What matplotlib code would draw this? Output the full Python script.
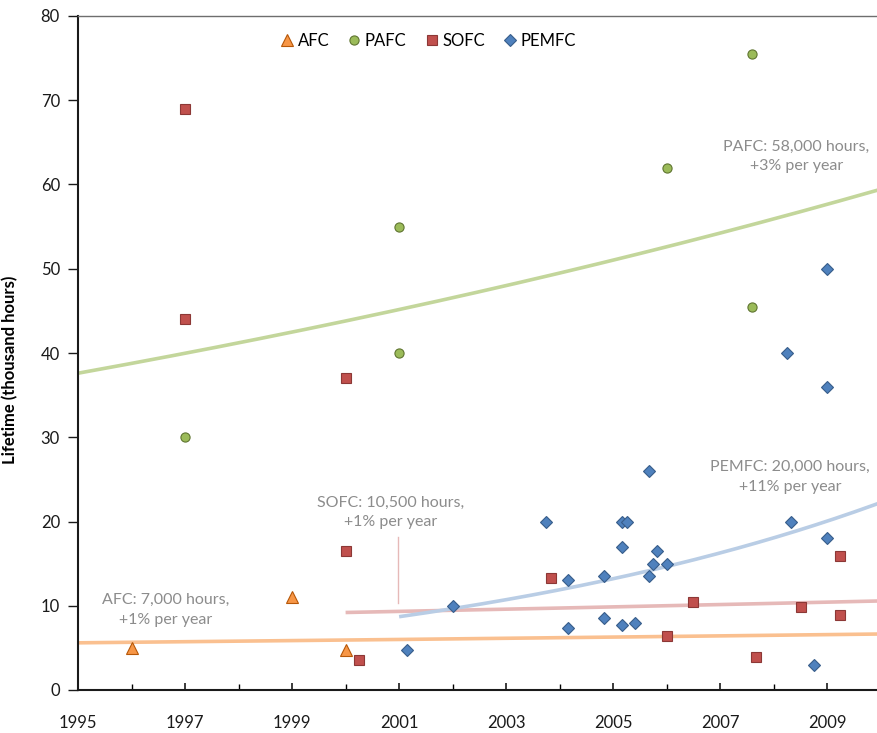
import matplotlib
matplotlib.use("Agg")
import matplotlib.pyplot as plt
import numpy as np

# lifetime records (year, thousand hours) per fuel cell type
afc_year = [1996.0, 1999.0, 2000.0]
afc_life = [5.0, 11.0, 4.8]

pafc_year = [1997.0, 2001.0, 2001.0, 2006.0, 2007.6, 2007.6]
pafc_life = [30.0, 55.0, 40.0, 62.0, 75.5, 45.5]

sofc_year = [1997.0, 1997.0, 2000.0, 2000.0, 2000.25, 2003.83, 2006.0, 2006.5,
             2007.67, 2008.5, 2009.24, 2009.24]
sofc_life = [69.0, 44.0, 37.0, 16.5, 3.6, 13.3, 6.4, 10.5, 3.9, 9.9, 15.9, 8.9]

pemfc_year = [2001.15, 2002.0, 2003.74, 2004.16, 2004.16, 2004.83, 2004.83,
              2005.16, 2005.25, 2005.16, 2005.16, 2005.41, 2005.66, 2005.66,
              2005.74, 2005.82, 2006.0, 2008.25, 2008.33, 2008.75, 2009.0,
              2009.0, 2009.0]
pemfc_life = [4.7, 10.0, 20.0, 13.0, 7.4, 13.5, 8.5, 20.0, 20.0, 17.0, 7.7,
              8.0, 26.0, 13.5, 15.0, 16.5, 15.0, 40.0, 20.0, 3.0, 50.0, 36.0,
              18.0]

# exponential trends: (start year, value at start, annual growth)
afc_trend = (1995.0, 5.6, 0.0115)
pafc_trend = (1995.0, 37.6, 0.031)
sofc_trend = (2000.0, 9.2, 0.014)
pemfc_trend = (2001.0, 8.7, 0.11)

trend_labels = {
    "AFC": "AFC: 7,000 hours,\n+1% per year",
    "PAFC": "PAFC: 58,000 hours,\n+3% per year",
    "SOFC": "SOFC: 10,500 hours,\n+1% per year",
    "PEMFC": "PEMFC: 20,000 hours,\n+11% per year",
}

plt.rcParams["font.family"] = ["Lato", "DejaVu Sans"]

fig = plt.figure(figsize=(8.77, 7.33), dpi=100)
ax = fig.add_axes([78 / 877, 1 - 690 / 733, 802.8 / 877, 674 / 733])

x_end = 2010.0


def trend(start, base, rate):
    t = np.linspace(start, x_end, 200)
    return t, base * (1 + rate) ** (t - start)


for tr, col in [(afc_trend, "#fac090"), (pafc_trend, "#c3d69b"),
                (sofc_trend, "#e6b9b8"), (pemfc_trend, "#b9cde5")]:
    t, v = trend(*tr)
    ax.plot(t, v, color=col, lw=2.6, zorder=2, solid_capstyle="butt")

ax.plot(afc_year, afc_life, ls="none", marker="^", ms=8, mfc="#f79646",
        mec="#b65708", mew=0.8, label="AFC", zorder=3)
ax.plot(pafc_year, pafc_life, ls="none", marker="o", ms=6.6, mfc="#9bbb59",
        mec="#5f7530", mew=0.8, label="PAFC", zorder=3)
ax.plot(sofc_year, sofc_life, ls="none", marker="s", ms=6.5, mfc="#c0504d",
        mec="#8c3836", mew=0.8, label="SOFC", zorder=3)
ax.plot(pemfc_year, pemfc_life, ls="none", marker="D", ms=6.0, mfc="#4f81bd",
        mec="#385d8a", mew=0.8, label="PEMFC", zorder=3)

# leader line for the SOFC note
ax.plot([2000.97, 2000.97], [10.3, 18.2], color="#e6b9b8", lw=1.0, zorder=2)

note_kw = dict(ha="center", va="center", color="#8c8c8c", fontsize=11.5,
               linespacing=1.5)
ax.text(2008.42, 63.3, trend_labels["PAFC"], **note_kw)
ax.text(2008.31, 25.3, trend_labels["PEMFC"], **note_kw)
ax.text(2000.85, 21.1, trend_labels["SOFC"], **note_kw)
ax.text(1996.63, 9.5, trend_labels["AFC"], **note_kw)

ax.set_xlim(1995, x_end)
ax.set_ylim(0, 80)
ax.set_xticks(np.arange(1995, 2010, 2))
ax.set_xticks(np.arange(1996, 2010, 2), minor=True)
ax.set_yticks(np.arange(0, 81, 10))
ax.tick_params(axis="x", direction="in", length=5, width=1.2, pad=18,
               labelsize=12, colors="#1a1a1a")
ax.tick_params(axis="x", which="minor", direction="in", length=4, width=1.0)
ax.tick_params(axis="y", direction="out", length=7, width=1.0, pad=6,
               labelsize=12, colors="#1a1a1a")

for side in ["left", "bottom"]:
    ax.spines[side].set_color("#1a1a1a")
    ax.spines[side].set_linewidth(1.5)
ax.spines["top"].set_color("#6e6e6e")
ax.spines["top"].set_linewidth(1.0)
ax.spines["right"].set_color("#6e6e6e")

ax.set_ylabel("Lifetime (thousand hours)", fontsize=12, fontweight="bold")
ax.yaxis.set_label_coords(-0.075, 0.475)

ax.legend(loc="upper center", bbox_to_anchor=(0.434, 0.997), ncol=4,
          frameon=False, fontsize=12, handletextpad=0.05, columnspacing=0.9,
          handlelength=1.2)

fig.savefig("out.png", dpi=100)
